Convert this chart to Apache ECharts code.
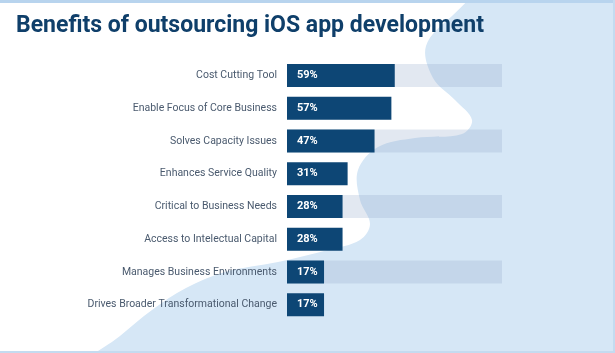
<!DOCTYPE html>
<html>
<head>
<meta charset="utf-8">
<script src="https://cdn.jsdelivr.net/npm/echarts@6/dist/echarts.min.js"></script>
<style>
  html, body { margin: 0; padding: 0; background: #fff; }
  #main { width: 615px; height: 353px; }
</style>
</head>
<body>
<div id="main"></div>
<script>
// chart data
var categories = [
    'Cost Cutting Tool',
    'Enable Focus of Core Business',
    'Solves Capacity Issues',
    'Enhances Service Quality',
    'Critical to Business Needs',
    'Access to Intelectual Capital',
    'Manages Business Environments',
    'Drives Broader Transformational Change'
];
var shares = [59, 57, 47, 31, 28, 28, 17, 17];
// light track drawn behind every other row
var trackRows = [true, false, true, false, true, false, true, false];

var AXIS_START = -5;  // bars begin a little before zero
var TRACK = 122.7;    // end of the light track, axis units
var DARK = '#0d4675';

var chart = echarts.init(document.getElementById('main'));

var option = {
    backgroundColor: '#ffffff',
    animation: false,
    title: {
        text: 'Benefits of outsourcing iOS app development',
        left: 11,
        top: 10,
        textStyle: {
            color: '#0f3f6a',
            fontFamily: 'Roboto',
            fontWeight: 'bold',
            fontSize: 23
        }
    },
    graphic: [
        {   // blue blob
            type: 'polygon',
            z: -10,
            silent: true,
            shape: {
                smooth: 0.35,
                points: [
                    [500, -20], [452, 16], [426, 46], [433, 78], [455, 100],
                    [472, 120], [462, 134], [415, 138], [378, 147], [358, 170],
                    [360, 200], [370, 224], [360, 240], [328, 250], [278, 262],
                    [225, 272], [186, 288], [152, 310], [120, 336], [80, 370],
                    [640, 370], [640, -20]
                ]
            },
            style: { fill: '#d6e7f6' }
        },
        {   // top band
            type: 'rect', z: -5, silent: true,
            shape: { x: 0, y: 0, width: 615, height: 3 },
            style: { fill: '#b8d4ee' }
        },
        {
            type: 'rect', z: -5, silent: true,
            shape: { x: 613, y: 0, width: 2, height: 353 },
            style: { fill: '#c4dbf0' }
        },
        {
            type: 'rect', z: -5, silent: true,
            shape: { x: 0, y: 351, width: 615, height: 2 },
            style: { fill: '#c4dbf0' }
        }
    ],
    grid: {
        left: 287,
        right: 113,
        top: 59,
        bottom: 32
    },
    xAxis: {
        type: 'value',
        min: AXIS_START,
        max: TRACK,
        startValue: AXIS_START,
        show: false
    },
    yAxis: {
        type: 'category',
        inverse: true,
        data: categories,
        axisLine: { show: false },
        axisTick: { show: false },
        splitLine: { show: false },
        axisLabel: {
            margin: 10,
            color: '#4a5a6e',
            fontFamily: 'Roboto',
            fontSize: 10.5
        }
    },
    series: [
        {
            name: 'track',
            type: 'bar',
            barWidth: 23,
            barGap: '-100%',
            silent: true,
            itemStyle: { color: 'rgba(150,172,206,0.28)' },
            data: trackRows.map(function (on) { return on ? TRACK : '-'; })
        },
        {
            name: 'share',
            type: 'bar',
            barWidth: 23,
            barGap: '-100%',
            itemStyle: { color: DARK },
            label: {
                show: true,
                position: 'insideLeft',
                distance: 10,
                formatter: '{c}%',
                color: '#ffffff',
                fontFamily: 'Roboto',
                fontWeight: 'bold',
                fontSize: 11
            },
            data: shares
        }
    ]
};

chart.setOption(option);
window.addEventListener('resize', function () {
    chart.resize();
});
</script>
</body>
</html>
